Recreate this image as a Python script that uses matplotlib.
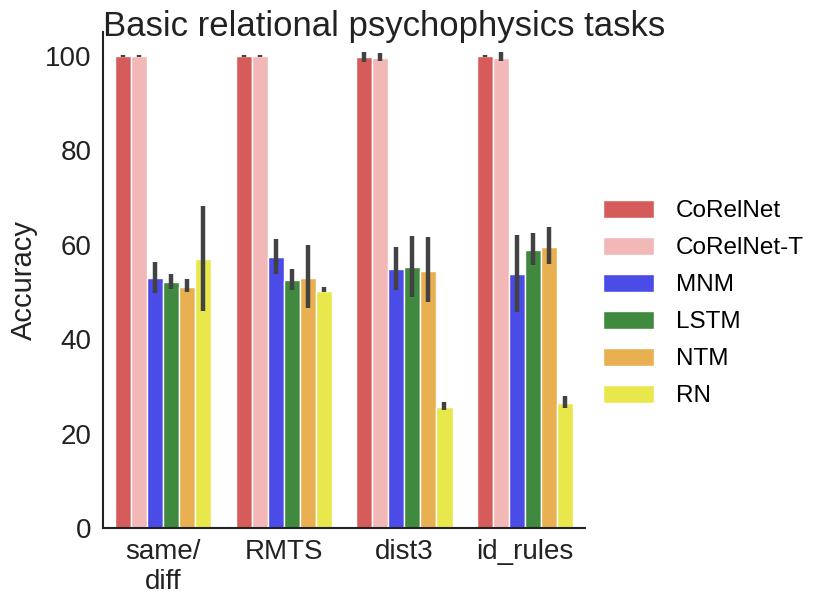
import numpy as np
import matplotlib
matplotlib.use("Agg")
import matplotlib.pyplot as plt

plt.rcParams['font.family'] = ['Liberation Sans', 'DejaVu Sans']

# data
tasks = ["same/\ndiff", "RMTS", "dist3", "id_rules"]
models = ["CoRelNet", "CoRelNet-T", "MNM", "LSTM", "NTM", "RN"]
colors = ["#d65c5c", "#f2b8b8", "#4b4be8", "#3f8a3f", "#e8b050", "#e8e84c"]

corelnet = [100.0, 100.0, 99.8, 100.0]
corelnet_t = [100.0, 100.0, 99.6, 99.5]
mnm = [52.9, 57.3, 54.8, 53.8]
lstm = [52.0, 52.5, 55.2, 58.9]
ntm = [51.1, 53.0, 54.5, 59.6]
rn = [56.9, 50.3, 25.7, 26.4]

# error bar ends (low, high)
corelnet_lo = [99.8, 99.8, 98.7, 99.8]
corelnet_hi = [100.2, 100.2, 100.8, 100.2]
corelnet_t_lo = [99.8, 99.8, 98.9, 99.0]
corelnet_t_hi = [100.2, 100.2, 100.5, 100.7]
mnm_lo = [49.7, 53.8, 50.4, 45.8]
mnm_hi = [56.4, 61.2, 59.6, 62.1]
lstm_lo = [50.6, 50.4, 49.0, 55.7]
lstm_hi = [53.8, 54.8, 61.9, 62.4]
ntm_lo = [49.9, 46.5, 47.9, 55.9]
ntm_hi = [52.8, 59.9, 61.6, 63.7]
rn_lo = [45.9, 50.0, 25.1, 25.4]
rn_hi = [68.2, 51.0, 26.8, 28.0]

means = [corelnet, corelnet_t, mnm, lstm, ntm, rn]
lows = [corelnet_lo, corelnet_t_lo, mnm_lo, lstm_lo, ntm_lo, rn_lo]
highs = [corelnet_hi, corelnet_t_hi, mnm_hi, lstm_hi, ntm_hi, rn_hi]

fig = plt.figure(figsize=(8.3, 6.07), dpi=100)
ax = fig.add_axes([0.124, 0.130, 0.581, 0.817])

x = np.arange(len(tasks))
group_w = 0.8
w = group_w / len(models)
for i, (m, c) in enumerate(zip(models, colors)):
    vals = np.array(means[i])
    err = np.array([vals - np.array(lows[i]), np.array(highs[i]) - vals])
    pos = x - group_w / 2 + w * (i + 0.5)
    ax.bar(pos, vals, width=w, color=c, edgecolor="white", linewidth=1, label=m)
    ax.errorbar(pos, vals, yerr=err, fmt="none", ecolor="#424242",
                elinewidth=3.2, capsize=0)

ax.set_xlim(-0.5, 3.5)
ax.set_ylim(0, 105)
ax.set_yticks([0, 20, 40, 60, 80, 100])
ax.set_xticks(x)
ax.set_xticklabels(tasks)
ax.tick_params(axis="both", length=0, labelsize=20, pad=8, colors="#222222")
ax.set_ylabel("Accuracy", fontsize=21, color="#222222", labelpad=5)
# explicit y keeps matplotlib from pushing the title back up
ax.set_title("Basic relational psychophysics tasks", fontsize=25,
             color="#222222", y=1.0, pad=-3, loc="left")

for s in ["top", "right"]:
    ax.spines[s].set_visible(False)
for s in ["left", "bottom"]:
    ax.spines[s].set_color("#222222")
    ax.spines[s].set_linewidth(1.5)

fig.legend(loc="center left", bbox_to_anchor=(0.715, 0.5), frameon=False,
           fontsize=17.5, handlelength=2.1, handleheight=0.75,
           labelspacing=0.6, handletextpad=0.9, borderaxespad=0)

fig.savefig("out.png", dpi=100)
